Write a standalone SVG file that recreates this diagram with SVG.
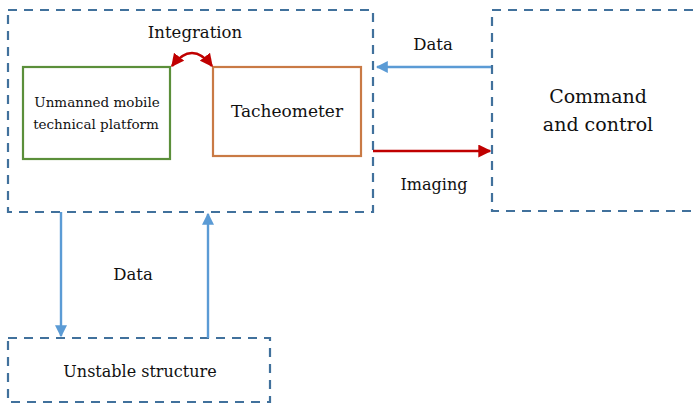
<svg xmlns="http://www.w3.org/2000/svg" width="695" height="404" viewBox="0 0 695 404">
<style>
.dash{fill:none;stroke:#41719c;stroke-width:2.2;stroke-dasharray:9 7}
.txt{font-family:"DejaVu Serif","Liberation Serif",serif;fill:#111111}
.blue{fill:none;stroke:#5b9bd5;stroke-width:2.4}
.red{fill:none;stroke:#c00000;stroke-width:2.6}
</style>
<defs>
<marker id="ab" viewBox="0 0 10 10" refX="9" refY="5" markerWidth="5" markerHeight="5" orient="auto" markerUnits="strokeWidth"><path d="M0,0 L10,5 L0,10 z" fill="#5b9bd5"/></marker>
<marker id="ar" viewBox="0 0 10 10" refX="9" refY="5" markerWidth="5" markerHeight="5" orient="auto-start-reverse" markerUnits="strokeWidth"><path d="M0,0 L10,5 L0,10 z" fill="#c00000"/></marker>
</defs>
<rect width="695" height="404" fill="#ffffff"/>
<g id="system">
<rect class="dash" x="8" y="10" width="365" height="202"/>
<text class="txt" x="195" y="38" font-size="16.5" text-anchor="middle">Integration</text>
</g>
<g id="platform">
<rect x="23" y="67" width="147" height="92" fill="none" stroke="#5b8f3a" stroke-width="2.2"/>
<text class="txt" x="97" y="107" font-size="13.5" text-anchor="middle">Unmanned mobile</text>
<text class="txt" x="96" y="129" font-size="13.5" text-anchor="middle">technical platform</text>
</g>
<g id="tacheometer">
<rect x="213" y="67" width="148" height="89" fill="none" stroke="#c97a45" stroke-width="2.2"/>
<text class="txt" x="287" y="117" font-size="17" text-anchor="middle">Tacheometer</text>
</g>
<g id="command">
<rect class="dash" x="492" y="10" width="215" height="201"/>
<text class="txt" x="598" y="103" font-size="19" text-anchor="middle">Command</text>
<text class="txt" x="598" y="131" font-size="19" text-anchor="middle">and control</text>
</g>
<g id="structure">
<rect class="dash" x="8" y="338" width="262" height="64"/>
<text class="txt" x="140" y="377" font-size="16" text-anchor="middle">Unstable structure</text>
</g>
<g id="connectors">
<path class="red" d="M172,66 Q192,40 212,66" marker-start="url(#ar)" marker-end="url(#ar)"/>
<line class="blue" x1="491" y1="67" x2="377" y2="67" marker-end="url(#ab)"/>
<text class="txt" x="433" y="50" font-size="16.5" text-anchor="middle">Data</text>
<line class="red" x1="373" y1="151" x2="490" y2="151" marker-end="url(#ar)"/>
<text class="txt" x="434" y="190" font-size="16" text-anchor="middle">Imaging</text>
<line class="blue" x1="61" y1="212" x2="61" y2="336" marker-end="url(#ab)"/>
<line class="blue" x1="208" y1="338" x2="208" y2="214" marker-end="url(#ab)"/>
<text class="txt" x="133" y="280" font-size="16.5" text-anchor="middle">Data</text>
</g>
</svg>
